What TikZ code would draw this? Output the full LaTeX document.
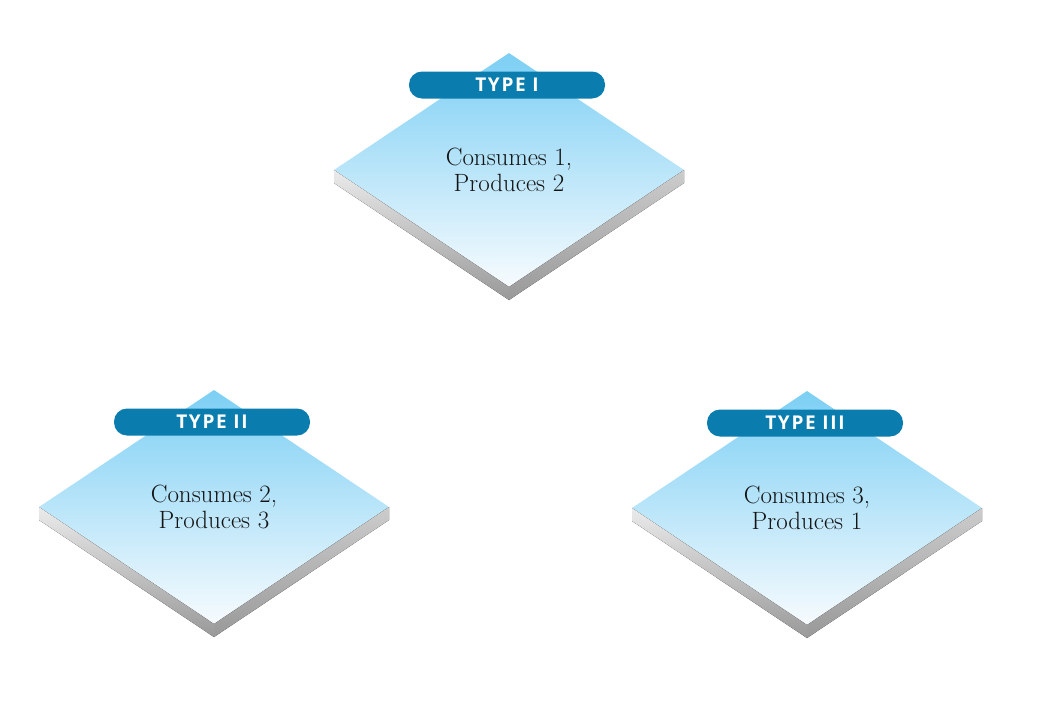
\documentclass[tikz,border=0pt]{standalone}
\usepackage{fontspec}
\usetikzlibrary{shapes.geometric,positioning}
\newfontfamily\tagfont[LetterSpace=9]{Open Sans}
\definecolor{skytop}{HTML}{7CCFF4}
\definecolor{skybot}{HTML}{F7FBFE}
\definecolor{tagblue}{HTML}{0A7DAE}
\tikzset{
  tile/.style={diamond,minimum width=350,minimum height=234,inner sep=0,outer sep=0,
    top color=skytop,bottom color=skybot,align=center,text=black!92,
    font=\fontsize{25}{26}\selectfont},
  tag/.style={rounded corners=13pt,fill=tagblue,minimum width=196,minimum height=27,
    inner sep=0,text=white,font=\tagfont\bfseries\fontsize{19}{20}\selectfont},
  sideL/.style={top color=black!8,bottom color=black!40},
  sideR/.style={top color=black!20,bottom color=black!40}
}
\begin{document}
\begin{tikzpicture}[x=1pt,y=-1pt]
	\useasboundingbox (0,0) rectangle (1041,710);
	\foreach \i/\x/\y/\t/\c/\p in {1/509/170/I/1/2,2/214/507/II/2/3,3/807/508/III/3/1}{
		\node[tile] (t\i) at (\x,\y) {Consumes \c,\\Produces \p};
		\fill[sideL] (t\i.west) -- (t\i.south) -- ([yshift=-13pt]t\i.south) -- ([yshift=-13pt]t\i.west) -- cycle;
		\fill[sideR] (t\i.south) -- (t\i.east) -- ([yshift=-13pt]t\i.east) -- ([yshift=-13pt]t\i.south) -- cycle;
		\node[tag] (l\i) at ([xshift=-2pt,yshift=85pt]t\i.center) {TYPE \t};
	}
\end{tikzpicture}
\end{document}
